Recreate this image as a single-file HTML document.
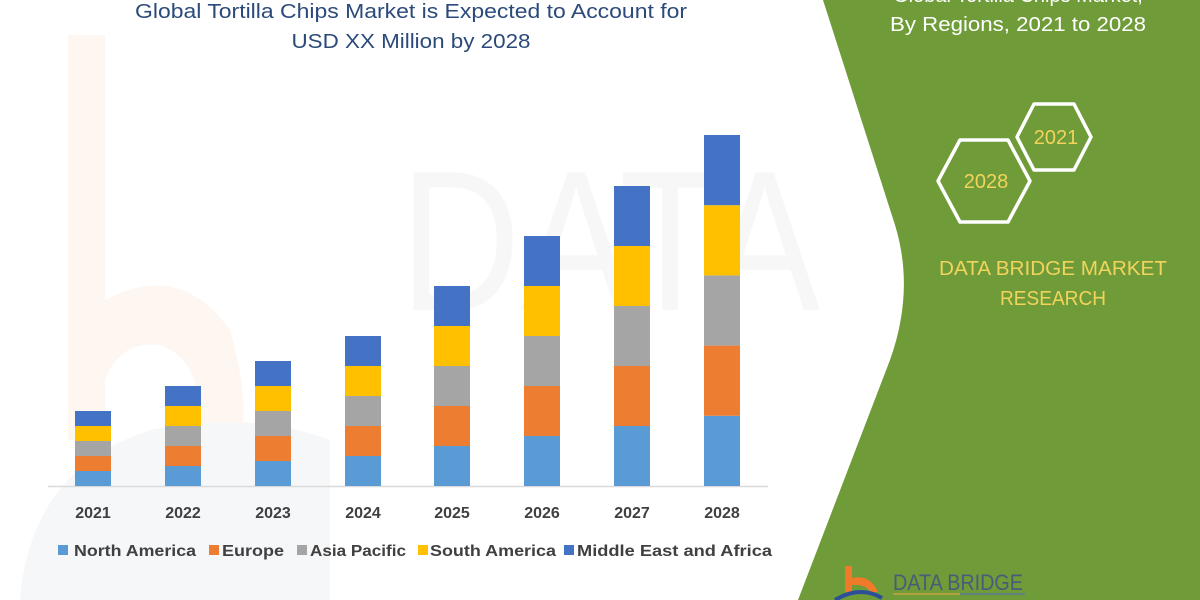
<!DOCTYPE html>
<html><head><meta charset="utf-8"><style>
html,body{margin:0;padding:0;background:#fff;width:1200px;height:600px;overflow:hidden}
svg{display:block}
text{font-family:"Liberation Sans",sans-serif}
</style></head><body>
<svg width="1200" height="600" viewBox="0 0 1200 600" xmlns="http://www.w3.org/2000/svg">
<rect width="1200" height="600" fill="#fff"/>
<!-- faint watermark -->
<path d="M68 35 H105 V300 Q180 260 230 330 Q250 400 240 440 H200 Q205 360 160 345 Q120 340 105 380 V440 H68 Z" fill="#fef6f1"/>
<path d="M20 600 Q30 470 150 430 Q250 410 330 440 L330 600 Z" fill="#f6f7f9"/>
<text x="400" y="310" font-size="200" fill="#f7f7f7" textLength="420" lengthAdjust="spacingAndGlyphs">DATA</text>
<!-- green panel -->
<path d="M823 0 H1200 V600 H798 L890 360 Q915 290 895 225 Z" fill="#6f9c38"/>
<!-- title -->
<text x="411" y="18" font-size="20" fill="#2b4a7a" text-anchor="middle" textLength="552" lengthAdjust="spacingAndGlyphs">Global Tortilla Chips Market is Expected to Account for</text>
<text x="411" y="48" font-size="20" fill="#2b4a7a" text-anchor="middle" textLength="239" lengthAdjust="spacingAndGlyphs">USD XX Million by 2028</text>
<!-- axis -->
<line x1="48" y1="486.5" x2="768" y2="486.5" stroke="#d9d9d9" stroke-width="1.5"/>
<g id="bars"></g>
<!-- years -->
<g font-size="16" font-weight="bold" fill="#404040" text-anchor="middle">
<text x="93" y="518">2021</text><text x="183" y="518">2022</text><text x="273" y="518">2023</text><text x="363" y="518">2024</text>
<text x="452" y="518">2025</text><text x="542" y="518">2026</text><text x="632" y="518">2027</text><text x="722" y="518">2028</text>
</g>
<!-- legend -->
<g font-size="16" font-weight="bold" fill="#404040">
<rect x="58" y="545" width="10" height="10" fill="#5b9bd5"/><text x="74" y="556" textLength="122" lengthAdjust="spacingAndGlyphs">North America</text>
<rect x="209" y="545" width="10" height="10" fill="#ed7d31"/><text x="222" y="556" textLength="62" lengthAdjust="spacingAndGlyphs">Europe</text>
<rect x="297" y="545" width="10" height="10" fill="#a5a5a5"/><text x="310" y="556" textLength="96" lengthAdjust="spacingAndGlyphs">Asia Pacific</text>
<rect x="418" y="545" width="10" height="10" fill="#ffc000"/><text x="430" y="556" textLength="126" lengthAdjust="spacingAndGlyphs">South America</text>
<rect x="564" y="545" width="10" height="10" fill="#4472c4"/><text x="577" y="556" textLength="195" lengthAdjust="spacingAndGlyphs">Middle East and Africa</text>
</g>
<!-- right panel -->
<text x="1018" y="2" font-size="20" fill="#fff" text-anchor="middle">Global Tortilla Chips Market,</text>
<text x="1018" y="31" font-size="20" fill="#fff" text-anchor="middle" textLength="256" lengthAdjust="spacingAndGlyphs">By Regions, 2021 to 2028</text>
<polygon points="960,140 1008,140 1030,181 1008,222 960,222 938,181" fill="none" stroke="#fff" stroke-width="3.5" stroke-linejoin="round"/>
<polygon points="1034,104 1074,104 1091,137 1074,170 1034,170 1017,137" fill="none" stroke="#fff" stroke-width="3.5" stroke-linejoin="round"/>
<text x="986" y="188" font-size="20" fill="#f2d45c" text-anchor="middle">2028</text>
<text x="1056" y="144" font-size="20" fill="#f2d45c" text-anchor="middle">2021</text>
<text x="1053" y="275" font-size="20" fill="#f2d45c" text-anchor="middle" textLength="228" lengthAdjust="spacingAndGlyphs">DATA BRIDGE MARKET</text>
<text x="1053" y="305" font-size="20" fill="#f2d45c" text-anchor="middle" textLength="106" lengthAdjust="spacingAndGlyphs">RESEARCH</text>
<!-- logo -->
<path d="M845 566 H852 V578 Q870 574 878 592 H870 Q866 584 852 585 V592 H845 Z" fill="#f07a2a"/>
<path d="M835 600 Q860 585 882 598" fill="none" stroke="#2d4f9a" stroke-width="4"/>
<text x="893" y="590" font-size="22" fill="#4a5a7a" textLength="130" lengthAdjust="spacingAndGlyphs">DATA BRIDGE</text>
<line x1="893" y1="594" x2="960" y2="594" stroke="#c8a040" stroke-width="1.5"/>
<line x1="960" y1="594" x2="1025" y2="594" stroke="#5a7a9a" stroke-width="1.5"/>
</svg>
<script>
var cs=["#5b9bd5","#ed7d31","#a5a5a5","#ffc000","#4472c4"];
var xs=[93,183,273,363,452,542,632,722], seg=[15,20,25,30,40,50,60,70.2];
var g=document.getElementById("bars"),h="";
for(var i=0;i<8;i++){var y=486;for(var k=0;k<5;k++){y-=seg[i];h+='<rect x="'+(xs[i]-18)+'" y="'+y+'" width="36" height="'+seg[i]+'" fill="'+cs[k]+'"/>';}}
g.innerHTML=h;
</script>
</body></html>
